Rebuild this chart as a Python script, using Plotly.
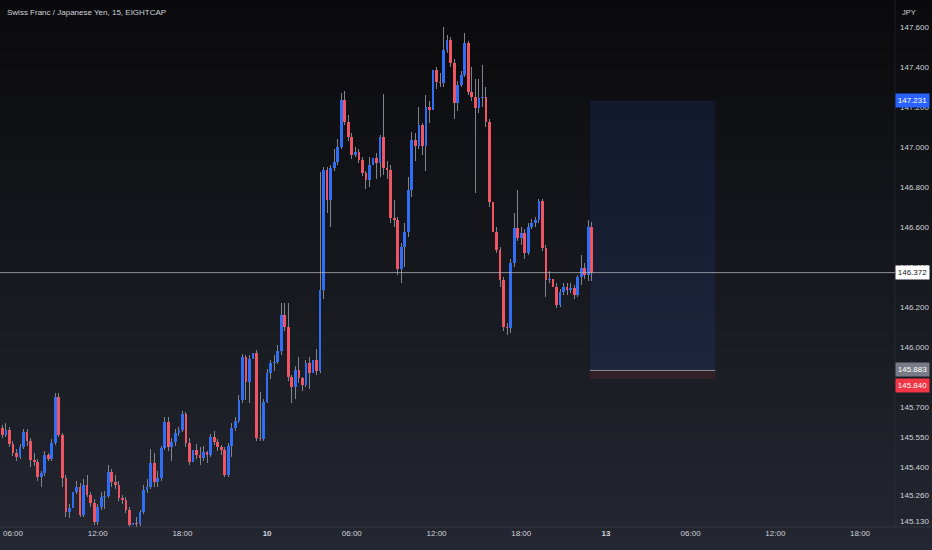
import plotly.graph_objects as go

# ---------------- data ----------------
first_open = 145.595
closes = [
    145.560, 145.585, 145.515, 145.470, 145.450, 145.500, 145.575, 145.530, 145.435, 145.425,
    145.350, 145.370, 145.460, 145.440, 145.520, 145.750, 145.560, 145.345, 145.175, 145.195,
    145.275, 145.300, 145.160, 145.310, 145.260, 145.220, 145.125, 145.200, 145.250, 145.255,
    145.375, 145.325, 145.310, 145.245, 145.235, 145.185, 145.110, 145.120, 145.115, 145.175,
    145.285, 145.300, 145.420, 145.325, 145.345, 145.495, 145.625, 145.500, 145.525, 145.570,
    145.585, 145.665, 145.520, 145.425, 145.485, 145.460, 145.445, 145.475, 145.460, 145.550,
    145.525, 145.500, 145.485, 145.360, 145.505, 145.595, 145.630, 145.735, 145.950, 145.825,
    145.940, 145.970, 145.545, 145.540, 145.725, 145.870, 145.920, 145.925, 145.980, 146.160,
    146.100, 145.850, 145.800, 145.885, 145.845, 145.810, 145.920, 145.870, 145.935, 145.880,
    146.285, 146.885, 146.735, 146.895, 146.925, 147.000, 147.235, 147.125, 147.050, 146.960,
    146.975, 146.935, 146.870, 146.835, 146.910, 146.945, 146.920, 147.050, 146.895, 146.885,
    146.645, 146.635, 146.390, 146.500, 146.575, 146.785, 147.035, 147.005, 147.110, 147.005,
    147.200, 147.185, 147.385, 147.325, 147.320, 147.485, 147.535, 147.420, 147.220, 147.310,
    147.360, 147.520, 147.275, 147.250, 147.195, 147.245, 147.250, 147.125, 146.725, 146.575,
    146.485, 146.335, 146.100, 146.095, 146.420, 146.595, 146.545, 146.570, 146.470, 146.600,
    146.620, 146.635, 146.730, 146.495, 146.335, 146.340, 146.300, 146.210, 146.275, 146.300,
    146.285, 146.295, 146.260, 146.350, 146.395, 146.360, 146.600, 146.372,
]
highs = [
    145.610, 145.620, 145.600, 145.530, 145.490, 145.515, 145.590, 145.590, 145.545, 145.470,
    145.440, 145.380, 145.480, 145.470, 145.540, 145.770, 145.770, 145.570, 145.360, 145.215,
    145.290, 145.330, 145.320, 145.340, 145.360, 145.275, 145.240, 145.215, 145.275, 145.280,
    145.410, 145.390, 145.360, 145.330, 145.260, 145.250, 145.200, 145.220, 145.150, 145.185,
    145.310, 145.340, 145.490, 145.470, 145.380, 145.505, 145.650, 145.650, 145.545, 145.590,
    145.600, 145.680, 145.675, 145.545, 145.500, 145.515, 145.500, 145.505, 145.480, 145.565,
    145.580, 145.540, 145.510, 145.500, 145.520, 145.620, 145.650, 145.760, 145.965, 145.960,
    145.960, 145.990, 145.985, 145.775, 145.740, 145.890, 145.935, 145.960, 146.010, 146.220,
    146.220, 146.220, 145.860, 145.905, 145.950, 145.850, 145.935, 145.950, 145.960, 145.990,
    146.875, 146.900, 146.900, 146.910, 146.990, 147.040, 147.270, 147.280, 147.160, 147.070,
    147.000, 146.990, 146.950, 146.880, 146.950, 147.000, 146.970, 147.060, 147.265, 146.930,
    146.910, 146.735, 146.650, 146.520, 146.620, 146.850, 147.075, 147.070, 147.200, 147.120,
    147.260, 147.230, 147.410, 147.400, 147.370, 147.600, 147.560, 147.550, 147.440, 147.330,
    147.380, 147.570, 147.530, 147.400, 147.340, 147.340, 147.410, 147.300, 147.140, 146.740,
    146.600, 146.500, 146.350, 146.120, 146.440, 146.670, 146.785, 146.600, 146.590, 146.620,
    146.640, 146.650, 146.740, 146.740, 146.510, 146.380, 146.360, 146.320, 146.290, 146.320,
    146.320, 146.320, 146.310, 146.360, 146.460, 146.420, 146.635, 146.625,
]
lows = [
    145.545, 145.550, 145.500, 145.455, 145.430, 145.440, 145.490, 145.505, 145.400, 145.405,
    145.330, 145.300, 145.355, 145.430, 145.430, 145.510, 145.550, 145.300, 145.150, 145.145,
    145.185, 145.265, 145.150, 145.150, 145.250, 145.200, 145.110, 145.110, 145.185, 145.190,
    145.245, 145.300, 145.290, 145.230, 145.215, 145.170, 145.100, 145.100, 145.100, 145.105,
    145.165, 145.270, 145.290, 145.300, 145.300, 145.330, 145.485, 145.480, 145.430, 145.505,
    145.555, 145.575, 145.500, 145.410, 145.415, 145.440, 145.410, 145.430, 145.420, 145.450,
    145.510, 145.480, 145.460, 145.350, 145.350, 145.450, 145.580, 145.620, 145.720, 145.735,
    145.720, 145.830, 145.530, 145.530, 145.530, 145.720, 145.840, 145.880, 145.915, 145.960,
    146.080, 145.830, 145.720, 145.740, 145.820, 145.780, 145.800, 145.790, 145.800, 145.860,
    145.870, 146.240, 146.670, 146.600, 146.880, 146.910, 146.990, 147.110, 147.030, 146.940,
    146.950, 146.920, 146.855, 146.790, 146.800, 146.860, 146.840, 146.850, 146.860, 146.840,
    146.620, 146.600, 146.360, 146.320, 146.400, 146.550, 146.750, 146.930, 146.990, 146.960,
    146.880, 147.120, 147.170, 147.290, 147.300, 147.300, 147.470, 147.400, 147.140, 147.180,
    147.300, 147.350, 147.260, 147.230, 146.770, 147.170, 147.200, 147.100, 146.700, 146.550,
    146.470, 146.300, 146.080, 146.060, 146.070, 146.400, 146.530, 146.510, 146.440, 146.460,
    146.590, 146.600, 146.620, 146.480, 146.250, 146.320, 146.230, 146.195, 146.200, 146.260,
    146.260, 146.270, 146.240, 146.250, 146.310, 146.340, 146.330, 146.330,
]
time_tick_bars = [3, 27, 51, 75, 99, 123, 147, 171, 195, 219, 243]
time_tick_labels = ["06:00", "12:00", "18:00", "<b>10</b>", "06:00", "12:00", "18:00",
                    "<b>13</b>", "06:00", "12:00", "18:00"]
price_ticks = [147.6, 147.4, 147.2, 147.0, 146.8, 146.6, 146.4, 146.2, 146.0,
               145.7, 145.55, 145.4, 145.26, 145.13]
last_price = 146.372
entry_price = 145.883
target_price = 147.231
stop_price = 145.840
position_start_bar = 166.5
position_end_bar = 202.0
title_text = "Swiss Franc / Japanese Yen, 15, EIGHTCAP"
currency = "JPY"

# ---------------- styling ----------------
W, H = 932, 550
M_R, M_B = 37, 23
PW, PH = W - M_R, H - M_B
UP = "#2f6ef5"
DOWN = "#f05563"
WICK = "rgba(140,144,155,0.9)"
TXT = "#d1d4dc"
FONT = "Liberation Sans, Arial, sans-serif"

n = len(closes)
idx = list(range(n))
opens = [first_open] + closes[:-1]

fig = go.Figure()

# wicks (thin bars, drawn before the bodies)
fig.add_trace(go.Bar(x=idx, y=[h - l for h, l in zip(highs, lows)], base=lows,
                     width=0.28, marker=dict(color=WICK, line=dict(width=0)),
                     hoverinfo="skip", showlegend=False))

# bodies
bases = [min(o, c) for o, c in zip(opens, closes)]
heights = [max(abs(c - o), 0.005) for o, c in zip(opens, closes)]
cols = [UP if c >= o else DOWN for o, c in zip(opens, closes)]
fig.add_trace(go.Bar(x=idx, y=heights, base=bases, width=0.78,
                     marker=dict(color=cols, line=dict(width=0)),
                     hoverinfo="skip", showlegend=False))

shapes = []
# background gradient (paper coords spanning the whole figure)
top = (10, 10, 12)
bot = (36, 39, 49)
steps = 55
for k in range(steps):
    t = (k + 0.5) / steps
    c = tuple(int(round(top[j] + (bot[j] - top[j]) * t)) for j in range(3))
    py0 = k * H / steps
    py1 = (k + 1) * H / steps + 0.5
    shapes.append(dict(type="rect", xref="paper", yref="paper",
                       x0=-0.01, x1=W / PW + 0.01,
                       y0=(PH - py1) / PH, y1=(PH - py0) / PH,
                       fillcolor="rgb(%d,%d,%d)" % c, line=dict(width=0),
                       layer="below"))
# axis separators
shapes.append(dict(type="line", xref="paper", yref="paper", x0=0, x1=W / PW,
                   y0=0, y1=0, line=dict(color="rgba(60,64,76,0.6)", width=1)))
shapes.append(dict(type="line", xref="paper", yref="paper", x0=1, x1=1,
                   y0=0, y1=1, line=dict(color="rgba(60,64,76,0.35)", width=1)))

# long position tool
shapes.append(dict(type="rect", xref="x", yref="y",
                   x0=position_start_bar, x1=position_end_bar,
                   y0=entry_price, y1=target_price,
                   fillcolor="rgba(41,98,255,0.11)", line=dict(width=0), layer="below"))
shapes.append(dict(type="rect", xref="x", yref="y",
                   x0=position_start_bar, x1=position_end_bar,
                   y0=stop_price, y1=entry_price,
                   fillcolor="rgba(242,54,69,0.10)", line=dict(width=0), layer="below"))
shapes.append(dict(type="line", xref="x", yref="y",
                   x0=position_start_bar, x1=position_end_bar,
                   y0=entry_price, y1=entry_price,
                   line=dict(color="rgba(150,154,164,0.9)", width=1)))

# last price line
shapes.append(dict(type="line", xref="paper", yref="y", x0=0, x1=1,
                   y0=last_price, y1=last_price,
                   line=dict(color="rgba(178,181,190,0.75)", width=1)))

annotations = [
    dict(text=title_text, xref="paper", yref="paper", x=5 / PW, y=(PH - 13) / PH,
         xanchor="left", yanchor="middle", showarrow=False,
         font=dict(color=TXT, size=8, family=FONT)),
    dict(text=currency, xref="paper", yref="paper", x=900 / PW, y=(PH - 12) / PH,
         xanchor="left", yanchor="middle", showarrow=False,
         font=dict(color=TXT, size=7.5, family=FONT)),
]


def axis_label(value, bg, fg, yshift=0):
    return dict(text="%.3f" % value, xref="paper", yref="y", x=1, y=value,
                xanchor="left", yanchor="middle", showarrow=False,
                bgcolor=bg, font=dict(color=fg, size=8, family=FONT),
                width=33, height=13, borderpad=0, align="center", yshift=yshift)


annotations += [
    axis_label(target_price, "#2962ff", "#ffffff"),
    axis_label(last_price, "#ffffff", "#131722"),
    axis_label(entry_price, "#787b86", "#ffffff", yshift=1),
    axis_label(stop_price, "#f23645", "#ffffff", yshift=-6),
]

fig.update_layout(
    width=W, height=H,
    margin=dict(l=0, r=M_R, t=0, b=M_B),
    paper_bgcolor="rgb(20,21,26)",
    plot_bgcolor="rgba(0,0,0,0)",
    showlegend=False,
    hovermode=False,
    barmode="overlay",
    bargap=0,
    shapes=shapes,
    annotations=annotations,
    xaxis=dict(range=[-0.68, 252.9], tickvals=time_tick_bars, ticktext=time_tick_labels,
               showgrid=False, zeroline=False, showline=False, ticks="",
               ticklabeloverflow="allow",
               tickfont=dict(color=TXT, size=8, family=FONT), fixedrange=True),
    yaxis=dict(range=[145.1, 147.735], side="right", tickvals=price_ticks,
               ticktext=["%.3f" % v for v in price_ticks],
               showgrid=False, zeroline=False, showline=False, ticks="",
               ticklabelstandoff=4,
               tickfont=dict(color=TXT, size=8, family=FONT), fixedrange=True),
)

fig.write_html("out.html", config={"displayModeBar": False})

# remove the default page margin so the figure sits at the window's top-left corner
with open("out.html", encoding="utf-8") as f:
    page = f.read()
page = page.replace("<head>", "<head><style>html,body{margin:0;padding:0;"
                    "background:#0a0a0c;overflow:hidden;}</style>", 1)
with open("out.html", "w", encoding="utf-8") as f:
    f.write(page)
